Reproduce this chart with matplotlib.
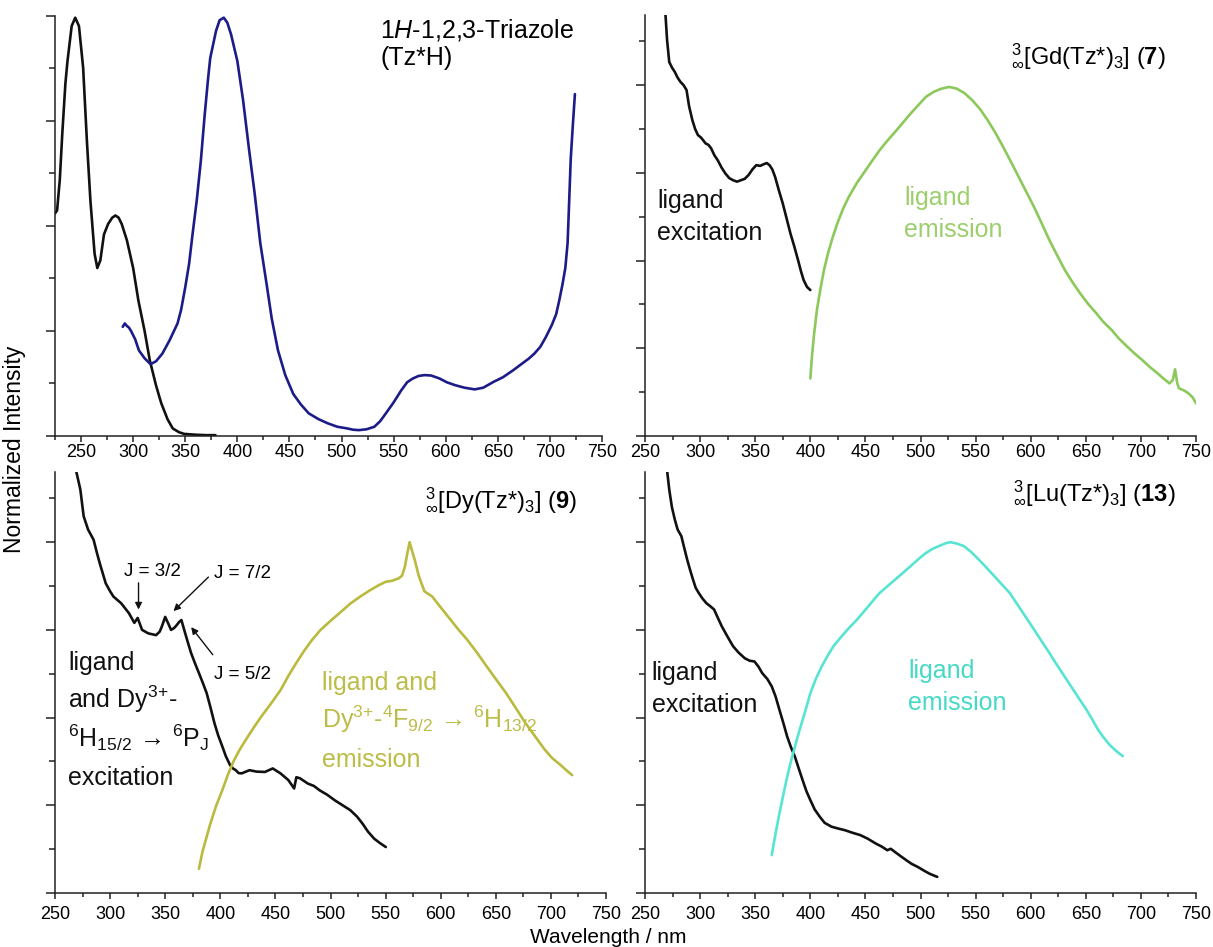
import matplotlib
matplotlib.use("Agg")
import matplotlib.pyplot as plt
from matplotlib.ticker import MultipleLocator, NullFormatter

plt.rcParams["font.family"] = ["Liberation Sans", "DejaVu Sans"]
plt.rcParams["mathtext.fontset"] = "custom"
plt.rcParams["mathtext.rm"] = "Liberation Sans"
plt.rcParams["mathtext.it"] = "Liberation Sans:italic"
plt.rcParams["mathtext.bf"] = "Liberation Sans:bold"

# ---- 1H-1,2,3-triazole (Tz*H): excitation and emission ----
tz_exc_x = [225, 227, 229.6, 232, 235, 237, 241, 244.4, 248, 252, 255.6, 259, 263,
            265.6, 268.5, 272, 276, 280, 283, 286, 289, 294, 300, 305, 311, 316,
            322, 327, 333, 338, 344, 349, 360, 370, 379]
tz_exc_y = [0.53, 0.537, 0.61, 0.72, 0.84, 0.893, 0.976, 0.996, 0.976, 0.877,
            0.703, 0.56, 0.434, 0.40, 0.418, 0.48, 0.505, 0.52, 0.525, 0.52, 0.505,
            0.466, 0.40, 0.323, 0.25, 0.18, 0.12, 0.078, 0.04, 0.018, 0.009, 0.005,
            0.003, 0.002, 0.002]
tz_em_x = [290, 292, 294, 296, 298, 302, 305.5, 311, 316.7, 322, 328, 335, 342.6,
           346, 350, 353.7, 357, 361, 365, 368.5, 372, 374, 379.6, 383, 387, 390.4,
           394, 400, 405.5, 411, 416.7, 422, 428, 433, 439, 446, 453.7, 461, 468.5,
           478, 487, 496, 505.5, 511, 516.7, 524, 531.5, 537, 542.6, 550, 557.4,
           563, 568.5, 574, 579.6, 586, 594, 601, 609, 618, 627.8, 636, 646, 655,
           665, 672, 679.6, 685, 690.7, 696, 701.8, 706, 709, 712, 714.8, 717,
           718.5, 720, 722, 724]
tz_em_y = [0.26, 0.268, 0.262, 0.258, 0.25, 0.23, 0.204, 0.185, 0.171, 0.178,
           0.196, 0.228, 0.268, 0.30, 0.354, 0.41, 0.48, 0.56, 0.656, 0.76, 0.853,
           0.90, 0.965, 0.99, 0.996, 0.984, 0.956, 0.893, 0.80, 0.687, 0.576,
           0.46, 0.363, 0.28, 0.204, 0.145, 0.10, 0.075, 0.054, 0.04, 0.03, 0.022,
           0.018, 0.015, 0.014, 0.016, 0.022, 0.035, 0.054, 0.08, 0.109, 0.128,
           0.137, 0.143, 0.145, 0.144, 0.137, 0.128, 0.121, 0.115, 0.111, 0.115,
           0.129, 0.14, 0.157, 0.17, 0.184, 0.196, 0.212, 0.235, 0.264, 0.29,
           0.323, 0.36, 0.40, 0.46, 0.56, 0.66, 0.74, 0.814]

# ---- Gd compound (7) ----
gd_exc_x = [268.5, 270, 272, 274.5, 277, 279.5, 282, 285, 287.7, 290, 293, 295.5,
            298, 301, 305, 307.5, 310, 313, 316, 319.5, 323, 326.5, 330, 333.5,
            337, 340.5, 344, 347.5, 351, 354.5, 358, 360.5, 363, 365.5, 368, 371.5,
            375, 378.5, 382, 385.5, 389, 391.5, 394, 397, 400]
gd_exc_y = [1.205, 1.13, 1.066, 1.05, 1.038, 1.022, 1.01, 1.0, 0.986, 0.94, 0.90,
            0.875, 0.858, 0.85, 0.834, 0.83, 0.82, 0.80, 0.786, 0.765, 0.748, 0.735,
            0.729, 0.725, 0.729, 0.733, 0.744, 0.76, 0.772, 0.77, 0.775, 0.778,
            0.772, 0.76, 0.739, 0.70, 0.663, 0.62, 0.577, 0.54, 0.50, 0.47, 0.444,
            0.425, 0.416]
gd_em_x = [400, 401.7, 403.5, 406, 409, 412.4, 416, 420, 424.5, 429.8, 435, 442,
           449, 456, 463, 470, 477, 484, 491, 498, 505, 512, 519, 526, 533, 540,
           547, 554, 561, 568, 575, 582, 589, 596, 603, 610, 617, 624, 631, 638,
           645, 652, 659.5, 666, 673.5, 680, 687.5, 694, 701, 708, 715, 720, 726,
           729, 731, 733, 734.5, 739, 743, 747, 750]
gd_em_y = [0.164, 0.235, 0.292, 0.359, 0.416, 0.473, 0.52, 0.563, 0.606, 0.648,
           0.682, 0.72, 0.752, 0.784, 0.815, 0.842, 0.867, 0.893, 0.919, 0.943,
           0.967, 0.981, 0.99, 0.995, 0.99, 0.977, 0.957, 0.932, 0.90, 0.864,
           0.824, 0.782, 0.739, 0.696, 0.653, 0.606, 0.558, 0.515, 0.473, 0.438,
           0.406, 0.377, 0.35, 0.325, 0.302, 0.278, 0.255, 0.236, 0.217, 0.197,
           0.179, 0.165, 0.15, 0.16, 0.19, 0.15, 0.136, 0.13, 0.122, 0.11, 0.093]

# ---- Dy compound (9) ----
dy_exc_x = [269.4, 273, 276, 280, 285, 288, 290.6, 296, 300, 303, 310, 317, 322,
            325, 329, 334.7, 341.7, 345, 347, 350, 352.5, 355.3, 358, 360.6, 362.5,
            364.7, 367.7, 370.5, 373.5, 377, 380.6, 384, 387.6, 391, 394.7, 398,
            401.8, 405, 408.8, 411.5, 414.1, 416.5, 419.4, 426.4, 433, 440.5,
            447.6, 454.6, 461.7, 467, 469, 472.3, 479.4, 485, 490, 497, 504, 511,
            518, 524, 529, 534, 539.6, 545, 550.2]
dy_exc_y = [1.2, 1.15, 1.074, 1.036, 1.007, 0.97, 0.94, 0.883, 0.86, 0.845, 0.826,
            0.798, 0.77, 0.784, 0.75, 0.74, 0.735, 0.745, 0.76, 0.787, 0.77, 0.75,
            0.755, 0.764, 0.772, 0.778, 0.745, 0.715, 0.684, 0.655, 0.627, 0.60,
            0.57, 0.53, 0.484, 0.45, 0.418, 0.39, 0.365, 0.355, 0.35, 0.342, 0.341,
            0.35, 0.346, 0.345, 0.355, 0.341, 0.322, 0.298, 0.33, 0.327, 0.312,
            0.305, 0.293, 0.28, 0.264, 0.25, 0.236, 0.218, 0.198, 0.175, 0.155,
            0.142, 0.131]
dy_em_x = [380.6, 384, 387.6, 391, 396.4, 401.8, 407, 412.4, 417.5, 423, 430, 437,
           446, 454.6, 462, 468.8, 476, 482.9, 491, 500.5, 509, 518, 527, 535.9,
           543, 550, 556, 562, 565, 567.5, 569.5, 571.8, 574, 576.4, 580, 585.2,
           592.3, 599, 606.4, 615, 624, 633, 641.7, 650, 659.3, 668, 677, 686,
           694.6, 701, 708.7, 714, 719.3]
dy_em_y = [0.069, 0.12, 0.16, 0.198, 0.25, 0.293, 0.338, 0.378, 0.408, 0.436, 0.47,
           0.502, 0.54, 0.578, 0.62, 0.655, 0.69, 0.72, 0.75, 0.777, 0.80, 0.825,
           0.845, 0.863, 0.876, 0.887, 0.89, 0.897, 0.905, 0.93, 0.965, 1.0, 0.975,
           0.95, 0.905, 0.86, 0.845, 0.818, 0.789, 0.755, 0.722, 0.685, 0.646,
           0.61, 0.57, 0.528, 0.484, 0.445, 0.408, 0.385, 0.365, 0.35, 0.336]

# ---- Lu compound (13) ----
lu_exc_x = [270.2, 272, 274.4, 277, 279.6, 283, 285.5, 288.3, 291, 293.5, 296,
            298.8, 302, 305.7, 309, 312.7, 316, 319.7, 325, 330, 335, 340.6, 345,
            349.3, 353, 356.3, 361, 365, 368.5, 372, 375.5, 379, 382.5, 386, 389.5,
            393, 396.5, 400, 404, 408.7, 413, 419.2, 425, 431.4, 438, 445.4, 452,
            459.4, 465, 469.8, 473, 476.8, 482, 487.3, 492, 497.7, 503, 508.2,
            512, 515.2]
lu_exc_y = [1.2, 1.15, 1.1, 1.065, 1.036, 1.017, 0.985, 0.95, 0.92, 0.894, 0.87,
            0.855, 0.84, 0.826, 0.818, 0.808, 0.785, 0.76, 0.73, 0.703, 0.685,
            0.669, 0.662, 0.66, 0.645, 0.627, 0.61, 0.589, 0.56, 0.522, 0.485,
            0.446, 0.415, 0.389, 0.355, 0.322, 0.29, 0.265, 0.238, 0.217, 0.2,
            0.189, 0.184, 0.179, 0.172, 0.165, 0.155, 0.141, 0.132, 0.122, 0.126,
            0.117, 0.105, 0.093, 0.083, 0.074, 0.064, 0.055, 0.05, 0.046]
lu_em_x = [365, 368.5, 372, 375.5, 379, 382.5, 386, 389.5, 393, 396.5, 400, 405,
           410.4, 415.5, 420.9, 428, 435, 442, 448.6, 455.5, 462.5, 469.5, 476.5,
           483.5, 490.4, 497.5, 504.4, 511, 518.3, 523, 527, 533, 539.2, 546, 553,
           560, 567, 574, 581, 588, 595, 602, 609, 616, 622.6, 629.5, 636.6, 643.5,
           650.5, 656, 661, 666, 671.4, 677.5, 683.6]
lu_em_y = [0.108, 0.17, 0.227, 0.28, 0.331, 0.376, 0.417, 0.456, 0.493, 0.53,
           0.569, 0.61, 0.646, 0.675, 0.703, 0.73, 0.755, 0.778, 0.802, 0.828,
           0.854, 0.873, 0.892, 0.911, 0.93, 0.95, 0.968, 0.981, 0.991, 0.997, 1.0,
           0.996, 0.989, 0.972, 0.95, 0.927, 0.903, 0.879, 0.855, 0.822, 0.789,
           0.756, 0.722, 0.689, 0.656, 0.623, 0.589, 0.556, 0.523, 0.494, 0.466,
           0.444, 0.423, 0.405, 0.39]

x_ticks = [250, 300, 350, 400, 450, 500, 550, 600, 650, 700, 750]

BLACK = "#111111"
NAVY = "#1c1c88"
GREEN = "#8cc85a"
OLIVE = "#b9ba3e"
CYAN = "#58e4d2"

fig = plt.figure(figsize=(12.13, 9.47), dpi=100)
W, H = 1213, 947


def make_axes(left, top, right, bottom, xlim, ylim, label_pad):
    ax = fig.add_axes([left / W, 1 - bottom / H, (right - left) / W, (bottom - top) / H])
    ax.set_xlim(*xlim)
    ax.set_ylim(*ylim)
    for s in ("top", "right"):
        ax.spines[s].set_visible(False)
    for s in ("left", "bottom"):
        ax.spines[s].set_linewidth(1.1)
        ax.spines[s].set_color("#222222")
    ax.set_xticks(x_ticks)
    ax.xaxis.set_minor_locator(MultipleLocator(25))
    ax.yaxis.set_major_locator(MultipleLocator(0.25))
    ax.yaxis.set_minor_locator(MultipleLocator(0.125))
    ax.yaxis.set_major_formatter(NullFormatter())
    ax.tick_params(axis="both", which="major", direction="out", width=1.1,
                   color="#222222", labelsize=13)
    ax.tick_params(axis="both", which="minor", direction="out", width=1.1,
                   color="#222222")
    ax.tick_params(axis="x", which="major", length=4.5, pad=label_pad)
    ax.tick_params(axis="x", which="minor", length=3.0)
    ax.tick_params(axis="y", which="major", length=6.5)
    ax.tick_params(axis="y", which="minor", length=4.5)
    return ax


ax_tz = make_axes(55, 16, 602, 436, (225, 750), (0, 1.0), 1.0)
ax_gd = make_axes(645, 15, 1196, 436, (250, 750), (0, 1.2), 1.0)
ax_dy = make_axes(55, 472, 606, 893, (250, 750), (0, 1.2), 4.5)
ax_lu = make_axes(645, 472, 1196, 893, (250, 750), (0, 1.2), 4.5)

LW = 1.9
style = dict(lw=LW, solid_joinstyle="round", solid_capstyle="round")
ax_tz.plot(tz_exc_x, tz_exc_y, color=BLACK, **style)
ax_tz.plot(tz_em_x, tz_em_y, color=NAVY, **style)
ax_gd.plot(gd_exc_x, gd_exc_y, color=BLACK, **style)
ax_gd.plot(gd_em_x, gd_em_y, color=GREEN, **style)
ax_dy.plot(dy_exc_x, dy_exc_y, color=BLACK, **style)
ax_dy.plot(dy_em_x, dy_em_y, color=OLIVE, **style)
ax_lu.plot(lu_exc_x, lu_exc_y, color=BLACK, **style)
ax_lu.plot(lu_em_x, lu_em_y, color=CYAN, **style)

FS = 18
# Panel titles
ax_tz.text(537, 0.948, r"1$\mathit{H}$-1,2,3-Triazole", fontsize=FS, ha="left", va="baseline")
ax_tz.text(537, 0.883, "(Tz*H)", fontsize=FS, ha="left", va="baseline")
ax_gd.text(722, 1.063, r"${}^{3}_{\infty}$[Gd(Tz*)$_{3}$] ($\mathbf{7}$)", fontsize=17,
           ha="right", va="baseline")
ax_dy.text(724, 1.10, r"${}^{3}_{\infty}$[Dy(Tz*)$_{3}$] ($\mathbf{9}$)", fontsize=17,
           ha="right", va="baseline")
ax_lu.text(731, 1.12, r"${}^{3}_{\infty}$[Lu(Tz*)$_{3}$] ($\mathbf{13}$)", fontsize=17,
           ha="right", va="baseline")

# Gd annotations
ax_gd.text(261, 0.650, "ligand", fontsize=FS, color=BLACK, va="baseline")
ax_gd.text(261, 0.559, "excitation", fontsize=FS, color=BLACK, va="baseline")
ax_gd.text(485, 0.658, "ligand", fontsize=FS, color="#9ccf6c", va="baseline")
ax_gd.text(485, 0.567, "emission", fontsize=FS, color="#9ccf6c", va="baseline")

# Lu annotations
ax_lu.text(256, 0.607, "ligand", fontsize=FS, color=BLACK, va="baseline")
ax_lu.text(256, 0.516, "excitation", fontsize=FS, color=BLACK, va="baseline")
ax_lu.text(489, 0.613, "ligand", fontsize=FS, color="#45d9c6", va="baseline")
ax_lu.text(489, 0.522, "emission", fontsize=FS, color="#45d9c6", va="baseline")

# Dy annotations
ax_dy.text(262, 0.636, "ligand", fontsize=FS, color=BLACK, va="baseline")
ax_dy.text(262, 0.527, r"and Dy$^{\text{3+}}$-", fontsize=FS, color=BLACK, va="baseline")
ax_dy.text(262, 0.416,
           r"$^{6}\mathrm{H}_{15/2}\,\rightarrow\,{}^{6}\mathrm{P}_{\mathrm{J}}$",
           fontsize=FS, color=BLACK, va="baseline")
ax_dy.text(262, 0.308, "excitation", fontsize=FS, color=BLACK, va="baseline")

OLIVE_TXT = "#bcbc48"
ax_dy.text(492, 0.579, "ligand and", fontsize=FS, color=OLIVE_TXT, va="baseline")
ax_dy.text(492, 0.470,
           r"$\mathrm{Dy}^{\text{3+}}\text{-}^{4}\mathrm{F}_{9/2}\,\rightarrow\,{}^{6}\mathrm{H}_{13/2}$",
           fontsize=FS, color=OLIVE_TXT, va="baseline")
ax_dy.text(492, 0.359, "emission", fontsize=FS, color=OLIVE_TXT, va="baseline")

arrow = dict(arrowstyle="-|>", color=BLACK, lw=1.0, mutation_scale=10)
ax_dy.text(313, 0.915, "J = 3/2", fontsize=13.5, va="center", ha="left")
ax_dy.annotate("", xy=(325.8, 0.80), xytext=(325.8, 0.892), arrowprops=arrow)
ax_dy.text(394, 0.912, "J = 7/2", fontsize=13.5, va="center", ha="left")
ax_dy.annotate("", xy=(355.7, 0.798), xytext=(391, 0.906), arrowprops=arrow)
ax_dy.text(394, 0.624, "J = 5/2", fontsize=13.5, va="center", ha="left")
ax_dy.annotate("", xy=(372, 0.764), xytext=(394.7, 0.673), arrowprops=arrow)

# Shared axis labels
fig.text(15 / W, 1 - 449 / H, "Normalized Intensity", rotation=90, fontsize=16.5,
         ha="center", va="center")
fig.text(608 / W, 1 - 937 / H, "Wavelength / nm", fontsize=15, ha="center", va="center")

fig.savefig("out.png", dpi=100)
